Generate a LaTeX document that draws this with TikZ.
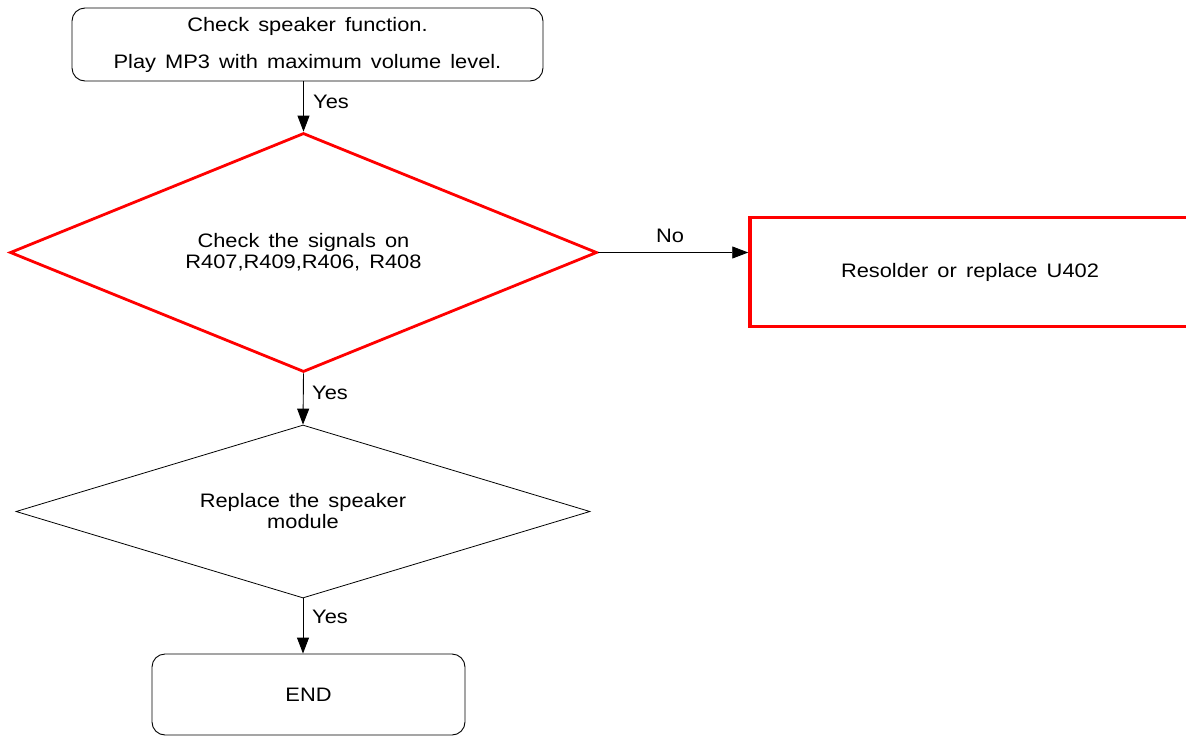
\documentclass[tikz,border=0pt]{standalone}
\usepackage{fontspec}
\setmainfont{Liberation Sans}[FakeStretch=1.12, WordSpace=1.5]
\usetikzlibrary{shapes.geometric,arrows.meta}
\tikzset{
  base/.style={font=\fontsize{19.5}{21}\selectfont, align=center, inner sep=0pt},
  roundbox/.style={base, draw=black, line width=0.9pt, rounded corners=13pt},
  reddiam/.style={base, diamond, draw=red, line width=2.8pt},
  blackdiam/.style={base, diamond, draw=black, line width=0.8pt},
  redbox/.style={base, draw=red, line width=3.5pt},
  conn/.style={draw=black, line width=0.9pt, -{Triangle[length=16pt,width=12pt]}},
  lbl/.style={font=\fontsize{19.5}{21}\selectfont, inner sep=0pt}
}
\begin{document}
\begin{tikzpicture}[x=1pt,y=-1pt]
\useasboundingbox (0,0) rectangle (1186,736);
\clip (0,0) rectangle (1186,736);
\fill[white] (0,0) rectangle (1186,736);

\node[roundbox, minimum width=471pt, minimum height=73pt] (start) at (307.5,44.5)
  {Check speaker function.\\[16pt]Play MP3 with maximum volume level.};

\node[reddiam, aspect=2.456, minimum width=587pt, minimum height=239pt] (check) at (303.5,252.5)
  {Check the signals on\\R407,R409,R406, R408};

\node[redbox, minimum width=440pt, minimum height=109pt] (resolder) at (970,272)
  {Resolder or replace U402};

\node[blackdiam, aspect=3.318, minimum width=574pt, minimum height=173pt] (replace) at (303,511.5)
  {Replace the speaker\\module};

\node[roundbox, minimum width=313pt, minimum height=81pt] (finish) at (308.5,694.5)
  {END};

\draw[conn] (check.north |- start.south) -- (check.north);
\draw[conn] (check.east) -- (check.east -| resolder.west);
\draw[conn] (check.south) -- (replace.north);
\draw[conn] (replace.south) -- (replace.south |- finish.north);

\node[lbl, anchor=base west] (yes1) at (313,108) {Yes};
\node[lbl, anchor=base] (no1) at (670,242) {No};
\node[lbl, anchor=base west] (yes2) at (312,399) {Yes};
\node[lbl, anchor=base west] (yes3) at (312,623) {Yes};
\end{tikzpicture}
\end{document}
